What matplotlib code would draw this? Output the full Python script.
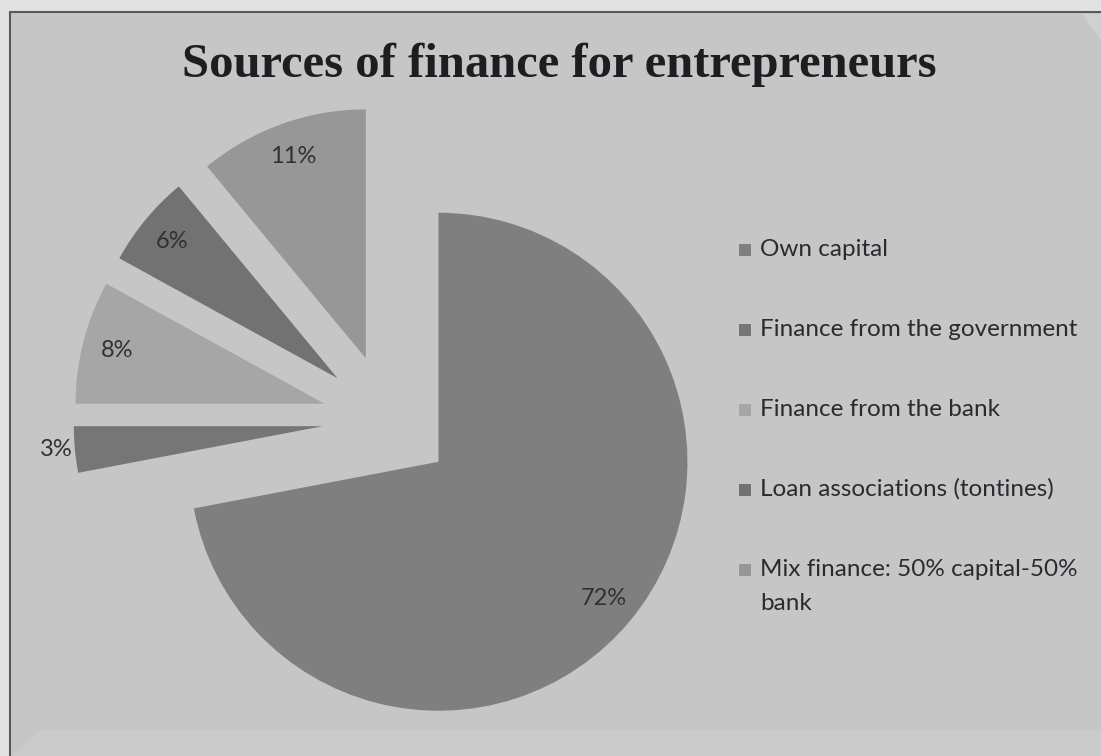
import matplotlib
matplotlib.use("Agg")
import matplotlib.pyplot as plt
from matplotlib.patches import Rectangle, Polygon
import numpy as np

# Data
categories = [
    "Own capital",
    "Finance from the government",
    "Finance from the bank",
    "Loan associations (tontines)",
    "Mix finance: 50% capital-50%\nbank",
]
shares = [72, 3, 8, 6, 11]
slice_colors = ["#7f7f7f", "#767676", "#a6a6a6", "#727272", "#979797"]
title = "Sources of finance for entrepreneurs"

W, H = 1101, 756
fig = plt.figure(figsize=(W / 100, H / 100), dpi=100)
fig.patch.set_facecolor("#e2e2e4")


def fx(px):
    return px / W


def fy(py):
    return 1 - py / H


# Chart panel with a thin dark border, behind the pie axes
panel = Rectangle((fx(10), fy(H + 5)), fx(W + 5) - fx(10), fy(12) - fy(H + 5),
                  transform=fig.transFigure, facecolor="#c6c6c6",
                  edgecolor="#5a5a5a", linewidth=1.5, zorder=-3)
fig.patches.append(panel)
# subtle bevels along the bottom edge and top-right corner
bevel = Polygon([(fx(12), fy(H)), (fx(40), fy(730)), (fx(W), fy(730)), (fx(W), fy(H))],
                closed=True, transform=fig.transFigure, facecolor="#cbcbcb",
                edgecolor="none", zorder=-2)
fig.patches.append(bevel)
bevel_r = Polygon([(fx(1082), fy(14)), (fx(W), fy(40)), (fx(W), fy(14))],
                  closed=True, transform=fig.transFigure, facecolor="#d0d0d0",
                  edgecolor="none", zorder=-2)
fig.patches.append(bevel_r)

# Pie axes: one data unit equals the pie radius in pixels
R = 249.0
cx, cy = 388.0, 420.0
ax = fig.add_axes([0, 0, 1, 1], zorder=1)
ax.patch.set_alpha(0)

wedges, texts, autotexts = ax.pie(
    shares,
    explode=[0.263] * len(shares),
    startangle=90,
    counterclock=False,
    colors=slice_colors,
    autopct=lambda p: f"{p:.0f}%",
    pctdistance=0.86,
    radius=1.0,
    wedgeprops=dict(linewidth=0),
    textprops=dict(fontfamily="Lato", fontsize=17, color="#303036"),
)
ax.set_xlim(-cx / R, (W - cx) / R)
ax.set_ylim(-(H - cy) / R, cy / R)
ax.set_aspect("auto")
ax.axis("off")

# The thin slice carries its label just outside the arc
w = wedges[1]
mid = np.deg2rad((w.theta1 + w.theta2) / 2)
vx, vy = w.center
autotexts[1].set_position((vx + 1.01 * np.cos(mid), vy + 1.01 * np.sin(mid)))
autotexts[1].set_ha("right")

# Title
fig.text(fx(559), fy(77), title, ha="center", va="baseline",
         fontfamily="Liberation Serif", fontweight="bold", fontsize=35,
         color="#1e1e22", zorder=2)

# Legend entries
for i, (lab, col) in enumerate(zip(categories, slice_colors)):
    base = 256 + 80 * i
    fig.patches.append(Rectangle((fx(739), fy(base)), 12 / W, 12 / H,
                                 transform=fig.transFigure, facecolor=col,
                                 edgecolor="none", zorder=2))
    for j, line in enumerate(lab.split("\n")):
        fig.text(fx(760), fy(base + 34 * j), line, ha="left", va="baseline",
                 fontfamily="Lato", fontsize=17.5, color="#2a2a30", zorder=2)

fig.savefig("out.png", dpi=100, facecolor=fig.get_facecolor())
